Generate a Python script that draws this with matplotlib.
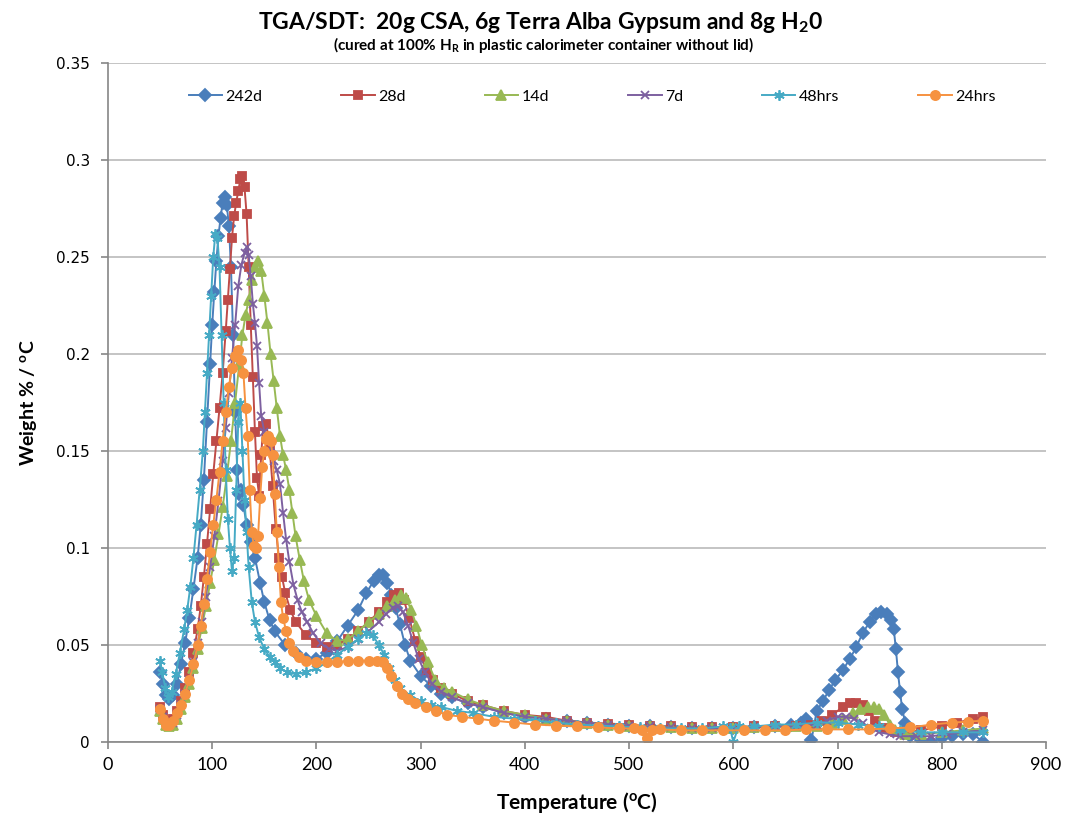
import matplotlib
matplotlib.use("Agg")
import matplotlib.pyplot as plt
from matplotlib.ticker import MultipleLocator, FormatStrFormatter

# Curvas DTG (temperatura en ºC, pérdida en % / ºC)
temp_242d = [50, 53, 56, 59, 62, 66, 70, 74, 78, 82, 86, 89, 92, 95, 98, 100, 102, 104, 106, 108,
             110, 112, 114, 116, 118, 120, 122, 124, 126, 128, 130, 133, 137, 141, 146, 150, 155, 160,
             170, 180, 190, 200, 210, 220, 230, 240, 248, 255, 260, 264, 268, 272, 276, 280, 285, 290,
             300, 310, 320, 330, 345, 360, 380, 400, 420, 440, 460, 480, 500, 520, 540, 560, 580, 600,
             620, 640, 655, 665, 670, 675, 680, 686, 692, 698, 705, 712, 718, 724, 731, 737, 742, 747,
             751, 754, 756, 758, 760, 762, 765, 770, 780, 790, 800, 810, 820, 830, 840]
w_242d = [0.036, 0.030, 0.024, 0.022, 0.024, 0.030, 0.040, 0.051, 0.064, 0.079,
          0.095, 0.112, 0.135, 0.165, 0.195, 0.215, 0.232, 0.248, 0.261, 0.270,
          0.278, 0.281, 0.277, 0.266, 0.245, 0.210, 0.170, 0.140, 0.128, 0.130,
          0.122, 0.112, 0.103, 0.095, 0.082, 0.072, 0.063, 0.057, 0.050, 0.046,
          0.043, 0.043, 0.046, 0.052, 0.060, 0.068, 0.077, 0.083, 0.086, 0.086,
          0.082, 0.076, 0.069, 0.061, 0.050, 0.042, 0.034, 0.029, 0.025, 0.023,
          0.020, 0.018, 0.015, 0.013, 0.012, 0.011, 0.010, 0.009, 0.0085, 0.008,
          0.0075, 0.007, 0.007, 0.007, 0.0075, 0.008, 0.009, 0.010, 0.012, 0.001,
          0.016, 0.021, 0.027, 0.032, 0.037, 0.043, 0.049, 0.056, 0.062, 0.066,
          0.067, 0.066, 0.063, 0.058, 0.048, 0.036, 0.026, 0.017, 0.010, 0.003,
          0.001, 0.000, 0.002, 0.003, 0.004, 0.004, 0.000]

temp_28d = [50, 53, 56, 59, 62, 66, 70, 74, 78, 82, 86, 89, 92, 95, 98, 101, 104, 107, 110, 113,
            115, 117, 119, 121, 123, 125, 127, 129, 131, 133, 135, 137, 139, 141, 143, 145, 147, 149,
            152, 155, 158, 161, 164, 167, 170, 175, 180, 190, 200, 210, 220, 230, 240, 250, 260, 268,
            274, 279, 284, 289, 295, 300, 306, 312, 320, 330, 345, 360, 380, 400, 420, 440, 460, 480,
            500, 520, 540, 560, 580, 600, 620, 640, 660, 675, 685, 695, 705, 712, 718, 724, 730, 736,
            745, 755, 765, 780, 800, 815, 830, 840]
w_28d = [0.018, 0.014, 0.011, 0.010, 0.012, 0.016, 0.021, 0.028, 0.036, 0.046,
         0.058, 0.070, 0.085, 0.102, 0.120, 0.138, 0.155, 0.172, 0.190, 0.212,
         0.228, 0.244, 0.260, 0.271, 0.278, 0.284, 0.290, 0.292, 0.286, 0.272,
         0.245, 0.215, 0.188, 0.160, 0.136, 0.127, 0.148, 0.163, 0.164, 0.152,
         0.132, 0.110, 0.095, 0.085, 0.077, 0.068, 0.062, 0.055, 0.051, 0.049,
         0.050, 0.053, 0.057, 0.062, 0.067, 0.072, 0.076, 0.077, 0.073, 0.064,
         0.052, 0.044, 0.037, 0.032, 0.028, 0.025, 0.021, 0.019, 0.016, 0.014,
         0.013, 0.011, 0.010, 0.0095, 0.009, 0.008, 0.008, 0.0075, 0.0075, 0.0075,
         0.008, 0.008, 0.0085, 0.009, 0.011, 0.014, 0.018, 0.020, 0.020, 0.019,
         0.016, 0.011, 0.007, 0.005, 0.005, 0.006, 0.008, 0.010, 0.012, 0.013]

temp_14d = [50, 53, 56, 59, 62, 66, 70, 74, 78, 82, 86, 90, 94, 98, 102, 106, 110, 114, 118, 122,
            126, 129, 132, 135, 138, 141, 144, 147, 150, 153, 156, 159, 162, 165, 168, 171, 174, 177,
            180, 184, 188, 193, 200, 210, 220, 230, 240, 250, 260, 268, 275, 281, 286, 291, 296, 301,
            307, 314, 322, 330, 345, 360, 380, 400, 420, 440, 460, 480, 500, 520, 540, 560, 580, 600,
            620, 640, 660, 680, 695, 705, 715, 722, 729, 735, 740, 745, 750, 755, 765, 780, 800, 820, 840]
w_14d = [0.016, 0.012, 0.009, 0.008, 0.009, 0.012, 0.017, 0.023, 0.030, 0.038,
         0.048, 0.059, 0.070, 0.082, 0.094, 0.107, 0.121, 0.137, 0.155, 0.175,
         0.195, 0.210, 0.220, 0.228, 0.238, 0.245, 0.248, 0.243, 0.230, 0.216,
         0.200, 0.186, 0.172, 0.158, 0.148, 0.140, 0.130, 0.118, 0.106, 0.094,
         0.083, 0.073, 0.065, 0.056, 0.052, 0.053, 0.057, 0.062, 0.066, 0.070,
         0.073, 0.076, 0.074, 0.068, 0.060, 0.050, 0.041, 0.032, 0.028, 0.026,
         0.022, 0.019, 0.016, 0.014, 0.012, 0.011, 0.010, 0.009, 0.0085, 0.008,
         0.0075, 0.007, 0.007, 0.007, 0.0075, 0.008, 0.008, 0.0085, 0.010, 0.012,
         0.015, 0.017, 0.018, 0.018, 0.017, 0.014, 0.009, 0.006, 0.004, 0.004,
         0.005, 0.006, 0.007]

temp_7d = [50, 53, 56, 59, 62, 66, 70, 74, 78, 82, 86, 90, 94, 98, 102, 106, 110, 113, 116, 119,
           122, 125, 128, 131, 133, 135, 137, 139, 141, 143, 145, 147, 150, 153, 156, 159, 162, 165,
           168, 171, 174, 178, 182, 186, 191, 197, 204, 212, 220, 230, 240, 250, 260, 267, 273, 278,
           283, 288, 293, 298, 304, 311, 320, 330, 345, 360, 380, 400, 420, 440, 460, 480, 500, 520,
           540, 560, 580, 600, 620, 640, 660, 680, 690, 700, 708, 716, 724, 732, 740, 750, 760, 775,
           790, 805, 820, 840]
w_7d = [0.017, 0.013, 0.010, 0.009, 0.010, 0.014, 0.019, 0.025, 0.032, 0.041,
        0.051, 0.062, 0.075, 0.090, 0.106, 0.124, 0.145, 0.162, 0.180, 0.198,
        0.215, 0.235, 0.246, 0.252, 0.255, 0.251, 0.240, 0.226, 0.216, 0.204,
        0.185, 0.168, 0.160, 0.158, 0.152, 0.145, 0.140, 0.133, 0.118, 0.104,
        0.093, 0.081, 0.073, 0.067, 0.062, 0.056, 0.051, 0.048, 0.047, 0.049,
        0.053, 0.057, 0.062, 0.066, 0.069, 0.070, 0.067, 0.060, 0.051, 0.043,
        0.036, 0.030, 0.026, 0.023, 0.020, 0.018, 0.015, 0.013, 0.012, 0.011,
        0.010, 0.009, 0.0085, 0.008, 0.0075, 0.007, 0.007, 0.007, 0.0075, 0.008,
        0.008, 0.009, 0.011, 0.013, 0.013, 0.012, 0.010, 0.007, 0.005, 0.004,
        0.003, 0.003, 0.003, 0.004, 0.005, 0.006]

temp_48h = [50, 52, 55, 58, 61, 65, 69, 73, 76, 79, 82, 85, 88, 91, 93, 95, 97, 99, 101, 103,
            105, 107, 109, 111, 113, 115, 117, 119, 121, 123, 125, 127, 129, 131, 133, 135, 138, 141,
            145, 150, 155, 160, 165, 172, 180, 190, 200, 210, 220, 230, 240, 248, 254, 260, 265, 270,
            275, 280, 290, 300, 310, 320, 335, 350, 370, 390, 410, 430, 450, 470, 490, 510, 530, 550,
            570, 590, 597, 600, 605, 620, 640, 660, 680, 700, 720, 740, 760, 780, 800, 820, 840]
w_48h = [0.042, 0.036, 0.028, 0.023, 0.026, 0.035, 0.046, 0.058, 0.068, 0.080,
         0.095, 0.112, 0.130, 0.150, 0.170, 0.190, 0.210, 0.230, 0.250, 0.262,
         0.260, 0.245, 0.210, 0.175, 0.140, 0.115, 0.100, 0.088, 0.095, 0.130,
         0.165, 0.175, 0.150, 0.125, 0.108, 0.090, 0.072, 0.062, 0.054, 0.048,
         0.044, 0.041, 0.038, 0.036, 0.035, 0.036, 0.038, 0.041, 0.045, 0.049,
         0.053, 0.056, 0.055, 0.050, 0.045, 0.038, 0.032, 0.028, 0.024, 0.021,
         0.019, 0.018, 0.016, 0.015, 0.013, 0.012, 0.011, 0.010, 0.009, 0.0085,
         0.008, 0.0075, 0.007, 0.007, 0.007, 0.008, 0.007, 0.000, 0.008, 0.008,
         0.009, 0.009, 0.010, 0.010, 0.009, 0.008, 0.006, 0.005, 0.005, 0.005,
         0.005]

temp_24h = [50, 53, 56, 59, 62, 66, 70, 74, 78, 82, 86, 89, 92, 95, 98, 101, 104, 107, 110, 113,
            116, 119, 122, 125, 128, 130, 132, 134, 136, 138, 140, 142, 144, 146, 148, 150, 152, 154,
            156, 158, 160, 162, 164, 166, 168, 171, 174, 178, 183, 190, 200, 210, 220, 230, 240, 250,
            258, 264, 268, 272, 277, 282, 288, 295, 305, 315, 325, 340, 355, 370, 390, 410, 430, 450,
            470, 490, 505, 512, 517, 522, 530, 550, 570, 590, 610, 630, 650, 670, 690, 710, 730, 750,
            770, 790, 810, 825, 840]
w_24h = [0.017, 0.012, 0.009, 0.009, 0.011, 0.015, 0.019, 0.025, 0.032, 0.040,
         0.050, 0.060, 0.071, 0.084, 0.098, 0.112, 0.125, 0.139, 0.155, 0.170,
         0.183, 0.193, 0.199, 0.202, 0.197, 0.190, 0.172, 0.158, 0.130, 0.108,
         0.101, 0.100, 0.106, 0.126, 0.142, 0.150, 0.156, 0.158, 0.155, 0.148,
         0.128, 0.108, 0.090, 0.072, 0.064, 0.057, 0.051, 0.047, 0.044, 0.042,
         0.041, 0.041, 0.041, 0.042, 0.042, 0.042, 0.042, 0.041, 0.038, 0.034,
         0.029, 0.025, 0.022, 0.020, 0.018, 0.016, 0.014, 0.013, 0.012, 0.011,
         0.010, 0.009, 0.0085, 0.008, 0.0075, 0.007, 0.007, 0.006, 0.002, 0.006,
         0.0065, 0.006, 0.006, 0.006, 0.006, 0.006, 0.006, 0.0065, 0.0065, 0.0065,
         0.0065, 0.007, 0.0075, 0.009, 0.010, 0.0105, 0.011]

etiquetas = ["242d", "28d", "14d", "7d", "48hrs", "24hrs"]

FUENTE = ["Lato", "DejaVu Sans"]
plt.rcParams["font.family"] = FUENTE
plt.rcParams["mathtext.default"] = "regular"

# (temperaturas, valores, color, marcador, tamaño)
series = [
    (temp_242d, w_242d, "#4A7EBB", "D", 5.8),
    (temp_28d, w_28d, "#BE4B48", "s", 5.6),
    (temp_14d, w_14d, "#98B954", "^", 6.6),
    (temp_7d, w_7d, "#7D60A0", "x", 6.0),
    (temp_48h, w_48h, "#46AAC5", (6, 2, 0), 7.5),
    (temp_24h, w_24h, "#F69240", "o", 6.6),
]

fig = plt.figure(figsize=(10.66, 8.24), dpi=100)
ax = fig.add_axes([0.1013, 0.0995, 0.8799, 0.824])

for nombre, (t, w, color, marca, ms) in zip(etiquetas, series):
    ax.plot(t, w, color=color, lw=1.4, marker=marca, ms=ms,
            mfc=color, mec=color, mew=1.3, label=nombre)

ax.set_xlim(0, 900)
ax.set_ylim(0, 0.35)
ax.xaxis.set_major_locator(MultipleLocator(100))
ax.yaxis.set_major_locator(MultipleLocator(0.05))
ax.yaxis.set_major_formatter(FormatStrFormatter("%g"))

ax.yaxis.grid(True, color="#BFBFBF", lw=1.3)
ax.set_axisbelow(True)
for lado in ["top", "right"]:
    ax.spines[lado].set_visible(False)
for lado in ["left", "bottom"]:
    ax.spines[lado].set_color("#868686")
    ax.spines[lado].set_linewidth(1.2)
ax.tick_params(axis="both", direction="out", length=5, color="#868686", width=1.2)
ax.tick_params(axis="x", labelsize=13, pad=6)
ax.tick_params(axis="y", labelsize=11, pad=8)
for lab in ax.get_yticklabels():
    lab.set_fontfamily("DejaVu Sans")

ax.set_xlabel("Temperature ($^{o}$C)", fontsize=15, fontweight="bold", labelpad=12)
ax.set_ylabel("Weight % / $^{o}$C", fontsize=14, fontweight="bold", labelpad=12)

fig.text(0.507, 0.973, "TGA/SDT:  20g CSA, 6g Terra Alba Gypsum and 8g H$_2$0",
         ha="center", va="center", fontsize=16.5, fontweight="bold")
fig.text(0.510, 0.945, "(cured at 100% H$_R$ in plastic calorimeter container without lid)",
         ha="center", va="center", fontsize=11, fontweight="bold")

ax.legend(loc="center", bbox_to_anchor=(0.516, 0.95), ncol=6, frameon=False,
          handlelength=2.1, handletextpad=0.2, columnspacing=4.95, numpoints=1,
          prop={"family": FUENTE, "size": 11.5})

fig.savefig("out.png", dpi=100)
